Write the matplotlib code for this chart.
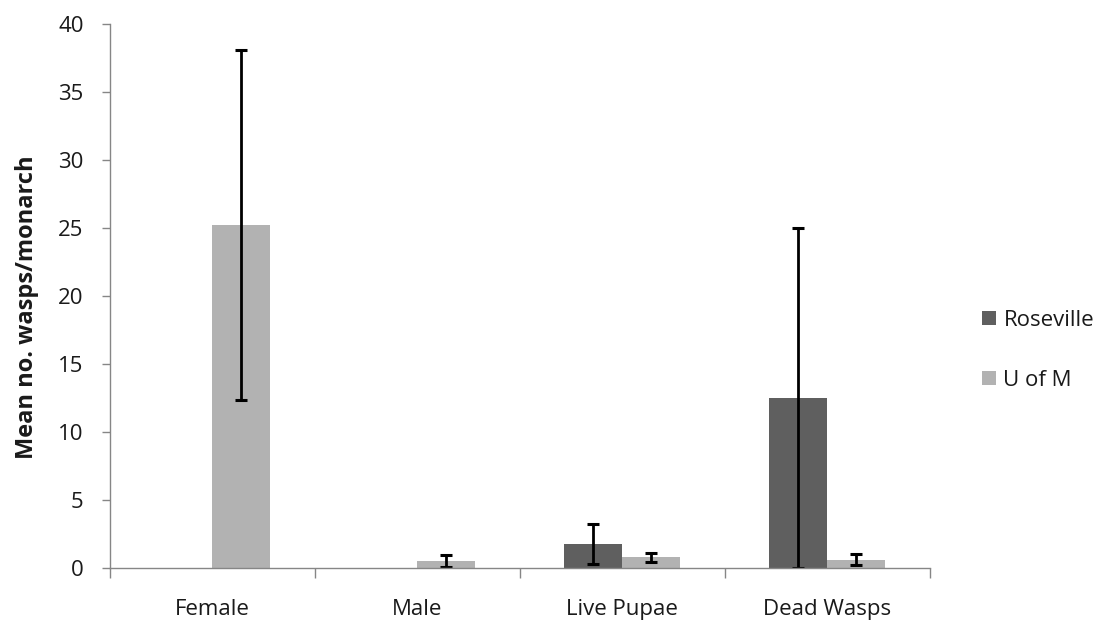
import matplotlib
matplotlib.use("Agg")
import matplotlib.pyplot as plt
import numpy as np

plt.rcParams['font.family'] = ['Open Sans', 'DejaVu Sans']

categories = ["Female", "Male", "Live Pupae", "Dead Wasps"]
series_names = ["Roseville", "U of M"]
roseville_mean = [0.0, 0.0, 1.75, 12.5]
roseville_err = [np.nan, np.nan, 1.45, 12.5]
uofm_mean = [25.2, 0.5, 0.78, 0.6]
uofm_err = [12.85, 0.45, 0.33, 0.4]
y_ticks = [0, 5, 10, 15, 20, 25, 30, 35, 40]

colors = ["#5f5f5f", "#b2b2b2"]
axis_color = "#868686"
text_color = "#1a1a1a"

fig = plt.figure(figsize=(11.04, 6.26), dpi=100)
ax = fig.add_axes([0.0996, 0.0927, 0.7424, 0.869])

centers = np.arange(len(categories)) + 0.5
width = 0.283

err_kw = dict(ecolor="black", elinewidth=2.0, capsize=4.5, capthick=2.2)
ax.bar(centers - width / 2, roseville_mean, width, color=colors[0],
       yerr=roseville_err, error_kw=err_kw, label=series_names[0], zorder=2)
ax.bar(centers + width / 2, uofm_mean, width, color=colors[1],
       yerr=uofm_err, error_kw=err_kw, label=series_names[1], zorder=2)

ax.set_xlim(0, len(categories))
ax.set_ylim(0, 40)
ax.set_yticks(y_ticks)

# Category boundaries as major ticks, names centered via minor ticks
ax.set_xticks(np.arange(len(categories) + 1))
ax.set_xticklabels([])
ax.set_xticks(centers, minor=True)
ax.set_xticklabels(categories, minor=True)
ax.tick_params(axis="x", which="major", direction="out", length=7,
               color=axis_color, width=1)
ax.tick_params(axis="x", which="minor", length=0, pad=22, labelsize=16,
               labelcolor=text_color)
ax.tick_params(axis="y", direction="out", length=6, color=axis_color,
               width=1, pad=13, labelsize=16, labelcolor=text_color)

for side in ("top", "right"):
    ax.spines[side].set_visible(False)
for side in ("left", "bottom"):
    ax.spines[side].set_color(axis_color)
    ax.spines[side].set_linewidth(1)

ax.set_ylabel("Mean no. wasps/monarch", fontsize=17, fontweight="bold",
              color=text_color)
ax.yaxis.set_label_coords(-0.086, 0.48)

leg = ax.legend(loc="center left", bbox_to_anchor=(1.04, 0.40),
                frameon=False, fontsize=16, handlelength=0.6,
                handleheight=0.6, handletextpad=0.35, labelspacing=1.75)
for t in leg.get_texts():
    t.set_color(text_color)

fig.savefig("out.png", dpi=100)
